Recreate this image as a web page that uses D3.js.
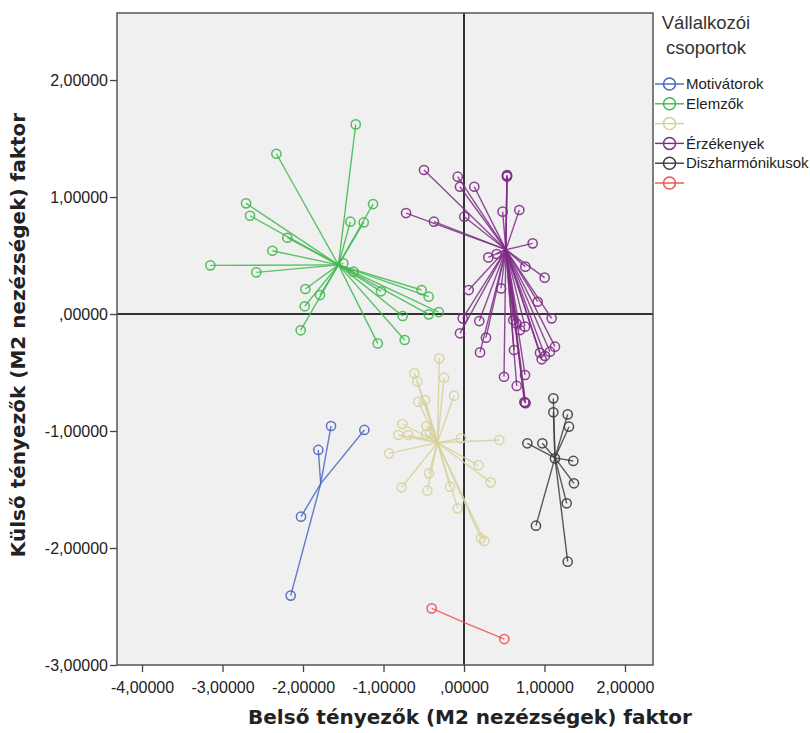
<!DOCTYPE html>
<html>
<head>
<meta charset="utf-8">
<script src="https://cdn.jsdelivr.net/npm/d3@7"></script>
<style>
  body { margin: 0; background: #fff; }
  svg { display: block; font-family: "Liberation Sans", Arial, sans-serif; }
</style>
</head>
<body>
<div id="chart"></div>
<script>
// group names (legend), two of them are blank in the original
var groupNames = ["Motivátorok", "Elemzők", "", "Érzékenyek", "Diszharmónikusok", ""];
var groupColors = ["#4a66c0", "#3fb84f", "#d6d19c", "#7e2c86", "#3d3d3d", "#f05050"];

// cluster centres [x, y]
var centres = [
  [-1.78, -1.45],
  [-1.56, 0.42],
  [-0.33, -1.10],
  [0.52, 0.55],
  [1.13, -1.23],
  [0.05, -2.65]
];

// members of each cluster [x, y]
var motivatorok = [
  [-1.652, -0.957], [-1.238, -0.991], [-1.810, -1.162], [-2.025, -1.732], [-2.153, -2.407]
];
var elemzok = [
  [-1.345, 1.621], [-2.331, 1.370], [-2.708, 0.946], [-2.658, 0.840], [-2.195, 0.652],
  [-2.381, 0.541], [-3.151, 0.416], [-2.580, 0.356], [-1.130, 0.940], [-1.412, 0.789],
  [-1.246, 0.783], [-1.499, 0.433], [-1.370, 0.362], [-1.971, 0.214], [-1.789, 0.162],
  [-1.979, 0.066], [-2.029, -0.139], [-1.031, 0.194], [-0.526, 0.205], [-0.439, 0.148],
  [-0.762, -0.017], [-0.439, -0.003], [-0.314, 0.017], [-1.072, -0.251], [-0.737, -0.222]
];
var sarga = [
  [-0.307, -0.379], [-0.617, -0.507], [-0.580, -0.578], [-0.248, -0.544], [-0.124, -0.698],
  [-0.567, -0.749], [-0.484, -0.735], [-0.766, -0.940], [-0.464, -0.957], [-0.816, -1.034],
  [-0.692, -1.034], [-0.472, -1.028], [-0.422, -1.015], [-0.932, -1.191], [-0.037, -1.063],
  [0.439, -1.077], [0.178, -1.293], [0.331, -1.439], [-0.435, -1.362], [-0.774, -1.481],
  [-0.456, -1.510], [-0.174, -1.476], [-0.078, -1.661], [0.211, -1.917], [0.252, -1.940]
];
var erzekenyek = [
  [-0.497, 1.231], [-0.078, 1.174], [-0.050, 1.088], [0.128, 1.088], [0.534, 1.188],
  [0.534, 1.180], [0.534, 1.175], [0.480, 0.875], [0.687, 0.889], [0.004, 0.832],
  [-0.373, 0.789], [-0.720, 0.863], [0.853, 0.604], [0.302, 0.484], [0.406, 0.513],
  [0.762, 0.405], [1.002, 0.311], [0.058, 0.205], [0.460, 0.219], [0.915, 0.105],
  [-0.016, -0.037], [0.190, -0.060], [-0.050, -0.165], [1.089, -0.037], [0.612, -0.051],
  [0.696, -0.137], [0.758, -0.108], [0.650, -0.080], [0.273, -0.202], [0.199, -0.328],
  [0.621, -0.308], [0.944, -0.331], [1.006, -0.359], [1.068, -0.322], [1.130, -0.279],
  [0.965, -0.387], [0.497, -0.536], [0.758, -0.521], [0.655, -0.615], [0.758, -0.758],
  [0.750, -0.752], [0.765, -0.762]
];
var diszharmonikusok = [
  [1.110, -0.721], [1.110, -0.840], [1.288, -0.858], [1.304, -0.963], [0.787, -1.105],
  [0.973, -1.105], [1.130, -1.234], [1.358, -1.256], [1.366, -1.447], [1.276, -1.618],
  [0.894, -1.809], [1.288, -2.117]
];
var piros = [
  [-0.401, -2.516], [0.501, -2.778]
];
var members = [motivatorok, elemzok, sarga, erzekenyek, diszharmonikusok, piros];

var xTicks = [-4, -3, -2, -1, 0, 1, 2];
var yTicks = [2, 1, 0, -1, -2, -3];

// SPSS style numbers: comma decimal, no leading zero for 0
var fmt = function(v) {
  var s = Math.abs(v).toFixed(5).replace(".", ",");
  if (v === 0) s = s.replace(/^0/, "");
  return (v < 0 ? "-" : "") + s;
};

var width = 810, height = 733;
var plot = {left: 117, right: 653, top: 13, bottom: 665};

var svg = d3.select("#chart").append("svg")
    .attr("width", width)
    .attr("height", height);

var x = d3.scaleLinear().domain([-4.311, 2.348]).range([plot.left, plot.right]);
var y = d3.scaleLinear().domain([2.573, -3]).range([plot.top, plot.bottom]);

// plot background
svg.append("rect")
    .attr("x", plot.left).attr("y", plot.top)
    .attr("width", plot.right - plot.left).attr("height", plot.bottom - plot.top)
    .attr("fill", "#f0f0f0");

// reference lines at zero
svg.append("line")
    .attr("x1", x(0)).attr("x2", x(0))
    .attr("y1", plot.top).attr("y2", plot.bottom)
    .attr("stroke", "#333").attr("stroke-width", 2);
svg.append("line")
    .attr("x1", plot.left).attr("x2", plot.right)
    .attr("y1", y(0)).attr("y2", y(0))
    .attr("stroke", "#333").attr("stroke-width", 2);

// spokes from centre to each member, then the member circles
members.forEach(function(pts, g) {
  var c = centres[g];
  var grp = svg.append("g").attr("class", "group-" + g);
  grp.selectAll("line.spoke")
      .data(pts)
    .enter().append("line")
      .attr("class", "spoke")
      .attr("x1", x(c[0])).attr("y1", y(c[1]))
      .attr("x2", function(d) { return x(d[0]); })
      .attr("y2", function(d) { return y(d[1]); })
      .attr("stroke", groupColors[g])
      .attr("stroke-width", 1.4)
      .attr("stroke-opacity", 0.85);
  grp.selectAll("circle")
      .data(pts)
    .enter().append("circle")
      .attr("cx", function(d) { return x(d[0]); })
      .attr("cy", function(d) { return y(d[1]); })
      .attr("r", 4.6)
      .attr("fill", "none")
      .attr("stroke", groupColors[g])
      .attr("stroke-width", 1.5)
      .attr("stroke-opacity", 0.9);
});

// frame
svg.append("rect")
    .attr("x", plot.left).attr("y", plot.top)
    .attr("width", plot.right - plot.left).attr("height", plot.bottom - plot.top)
    .attr("fill", "none")
    .attr("stroke", "#555").attr("stroke-width", 1.5);

// axes
var xAxis = svg.append("g")
    .attr("transform", "translate(0," + plot.bottom + ")")
    .call(d3.axisBottom(x).tickValues(xTicks).tickFormat(fmt).tickSize(7).tickSizeOuter(0));
var yAxis = svg.append("g")
    .attr("transform", "translate(" + plot.left + ",0)")
    .call(d3.axisLeft(y).tickValues(yTicks).tickFormat(fmt).tickSize(7).tickSizeOuter(0));

[xAxis, yAxis].forEach(function(a) {
  a.select(".domain").remove();
  a.selectAll(".tick line").attr("stroke", "#444").attr("stroke-width", 1.3);
  a.selectAll("text")
      .attr("fill", "#222")
      .style("font-size", "16px")
      .style("font-family", "'Liberation Sans', Arial, sans-serif");
});
xAxis.selectAll("text").attr("dy", "1.1em");
yAxis.selectAll("text").attr("x", -9);

// axis titles
svg.append("text")
    .attr("x", 470).attr("y", 724)
    .attr("text-anchor", "middle")
    .style("font-family", "'DejaVu Sans', Verdana, sans-serif")
    .style("font-weight", "bold")
    .style("font-size", "20px")
    .attr("fill", "#222")
    .text("Belső tényezők (M2 nezézségek) faktor");

svg.append("text")
    .attr("transform", "translate(25,335) rotate(-90)")
    .attr("text-anchor", "middle")
    .style("font-family", "'DejaVu Sans', Verdana, sans-serif")
    .style("font-weight", "bold")
    .style("font-size", "20px")
    .attr("fill", "#222")
    .text("Külső tényezők (M2 nezézségek) faktor");

// legend
var legend = svg.append("g");
legend.append("text")
    .attr("x", 706).attr("y", 29)
    .attr("text-anchor", "middle")
    .style("font-size", "18.5px").attr("fill", "#333")
    .text("Vállalkozói");
legend.append("text")
    .attr("x", 706).attr("y", 54)
    .attr("text-anchor", "middle")
    .style("font-size", "18.5px").attr("fill", "#333")
    .text("csoportok");

var item = legend.selectAll("g.item")
    .data(groupNames)
  .enter().append("g")
    .attr("class", "item")
    .attr("transform", function(d, i) { return "translate(0," + (84 + i * 19.8) + ")"; });
item.append("line")
    .attr("x1", 655).attr("x2", 684)
    .attr("stroke", function(d, i) { return groupColors[i]; })
    .attr("stroke-width", 1.4);
item.append("circle")
    .attr("cx", 669.5).attr("r", 6)
    .attr("fill", "none")
    .attr("stroke", function(d, i) { return groupColors[i]; })
    .attr("stroke-width", 1.5);
item.append("text")
    .attr("x", 686).attr("dy", "0.35em")
    .style("font-size", "15px").attr("fill", "#222")
    .text(function(d) { return d; });
</script>
</body>
</html>
